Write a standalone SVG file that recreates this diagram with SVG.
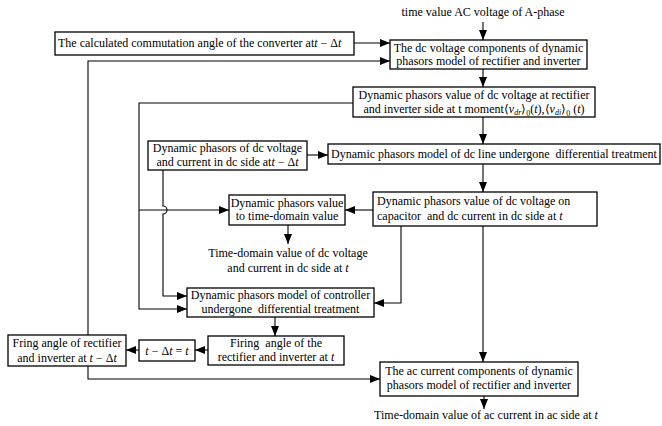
<svg xmlns="http://www.w3.org/2000/svg" width="662" height="426" viewBox="0 0 662 426">
<style>
.b{fill:#fff;stroke:#000;stroke-width:1.3}
.t{font-family:"Liberation Serif","Times New Roman",serif;font-size:12px;fill:#000}
.c{text-anchor:middle}
.i{font-style:italic}
.s{font-size:8px}
.l{fill:none;stroke:#000;stroke-width:1.1}
</style>
<defs>
<marker id="a" viewBox="0 0 10 8" refX="10" refY="4" markerWidth="10" markerHeight="8" markerUnits="userSpaceOnUse" orient="auto"><path d="M0,0L10,4L0,8z"/></marker>
</defs>
<g id="connectors" class="l" marker-end="url(#a)">
<path d="M483,22V40"/>
<path d="M354,43H390"/>
<path d="M88,335V61H390"/>
<path d="M483,69V87"/>
<path d="M353,103H139V309H187"/>
<path d="M139,210H229"/>
<path d="M483,117V144"/>
<path d="M307,155H328"/>
<path d="M163,170V206A4,4 0 0 1 163,214V296H187"/>
<path d="M483,164V192"/>
<path d="M373,210H345"/>
<path d="M288,225V244"/>
<path d="M483,226V362"/>
<path d="M401,226V303H374"/>
<path d="M275,317V336"/>
<path d="M208,350H195"/>
<path d="M139,350H126"/>
<path d="M88,366V379H380"/>
<path d="M484,396V409"/>
</g>
<g id="lbl-top"><text class="t c" x="483" y="16">time value AC voltage of A-phase</text></g>
<g id="n-commutation"><rect class="b" x="55" y="32" width="299" height="23"/><text class="t" x="58" y="47">The calculated commutation angle of the converter at<tspan class="i">t</tspan> − Δ<tspan class="i">t</tspan></text></g>
<g id="n-dcvoltcomp"><rect class="b" x="390" y="40" width="197" height="29"/><text class="t c" x="488.5" y="52">The dc voltage components of dynamic</text><text class="t c" x="488.5" y="65">phasors model of rectifier and inverter</text></g>
<g id="n-dpvalue"><rect class="b" x="353" y="87" width="242" height="30"/><text class="t c" x="474" y="99">Dynamic phasors value of dc voltage at rectifier</text><text class="t c" x="474" y="113">and inverter side at t moment⟨<tspan class="i">v</tspan><tspan class="i s" dy="2">dr</tspan><tspan dy="-2">⟩</tspan><tspan class="s" dy="3">0</tspan><tspan dy="-3">(</tspan><tspan class="i">t</tspan>),⟨<tspan class="i">v</tspan><tspan class="i s" dy="2">di</tspan><tspan dy="-2">⟩</tspan><tspan class="s" dy="3">0</tspan><tspan dy="-3"> (</tspan><tspan class="i">t</tspan>)</text></g>
<g id="n-dpprev"><rect class="b" x="148" y="141" width="159" height="29"/><text class="t c" x="227.5" y="152">Dynamic phasors of dc voltage</text><text class="t c" x="227.5" y="166">and current in dc side at<tspan class="i">t</tspan> − Δ<tspan class="i">t</tspan></text></g>
<g id="n-dcline"><rect class="b" x="328" y="144" width="332" height="20"/><text class="t c" x="494" y="158" xml:space="preserve">Dynamic phasors model of dc line undergone  differential treatment</text></g>
<g id="n-capacitor"><rect class="b" x="373" y="192" width="224" height="34"/><text class="t" x="377" y="205">Dynamic phasors value of dc voltage on</text><text class="t" x="377" y="220" xml:space="preserve">capacitor  and dc current in dc side at <tspan class="i">t</tspan></text></g>
<g id="n-totime"><rect class="b" x="229" y="195" width="116" height="30"/><text class="t c" x="287" y="207">Dynamic phasors value</text><text class="t c" x="287" y="220">to time-domain value</text></g>
<g id="lbl-dctime"><text class="t c" x="288" y="257">Time-domain value of dc voltage</text><text class="t c" x="288" y="272">and current in dc side at <tspan class="i">t</tspan></text></g>
<g id="n-controller"><rect class="b" x="187" y="288" width="187" height="29"/><text class="t c" x="280.5" y="299">Dynamic phasors model of controller</text><text class="t c" x="280.5" y="313" xml:space="preserve">undergone  differential treatment</text></g>
<g id="n-firing"><rect class="b" x="208" y="336" width="136" height="29"/><text class="t c" x="276" y="347" xml:space="preserve">Firing  angle of the</text><text class="t c" x="276" y="361">rectifier and inverter at <tspan class="i">t</tspan></text></g>
<g id="n-shift"><rect class="b" x="139" y="340" width="56" height="21"/><text class="t c" x="167" y="355"><tspan class="i">t</tspan> − Δ<tspan class="i">t</tspan> = <tspan class="i">t</tspan></text></g>
<g id="n-fring"><rect class="b" x="8" y="335" width="118" height="31"/><text class="t c" x="67" y="347">Fring angle of rectifier</text><text class="t c" x="67" y="362">and inverter at <tspan class="i">t</tspan> − Δ<tspan class="i">t</tspan></text></g>
<g id="n-accurrent"><rect class="b" x="380" y="362" width="198" height="34"/><text class="t c" x="479" y="375">The ac current components of dynamic</text><text class="t c" x="479" y="389">phasors model of rectifier and inverter</text></g>
<g id="lbl-actime"><text class="t c" x="486" y="419">Time-domain value of ac current in ac side at <tspan class="i">t</tspan></text></g>
</svg>
